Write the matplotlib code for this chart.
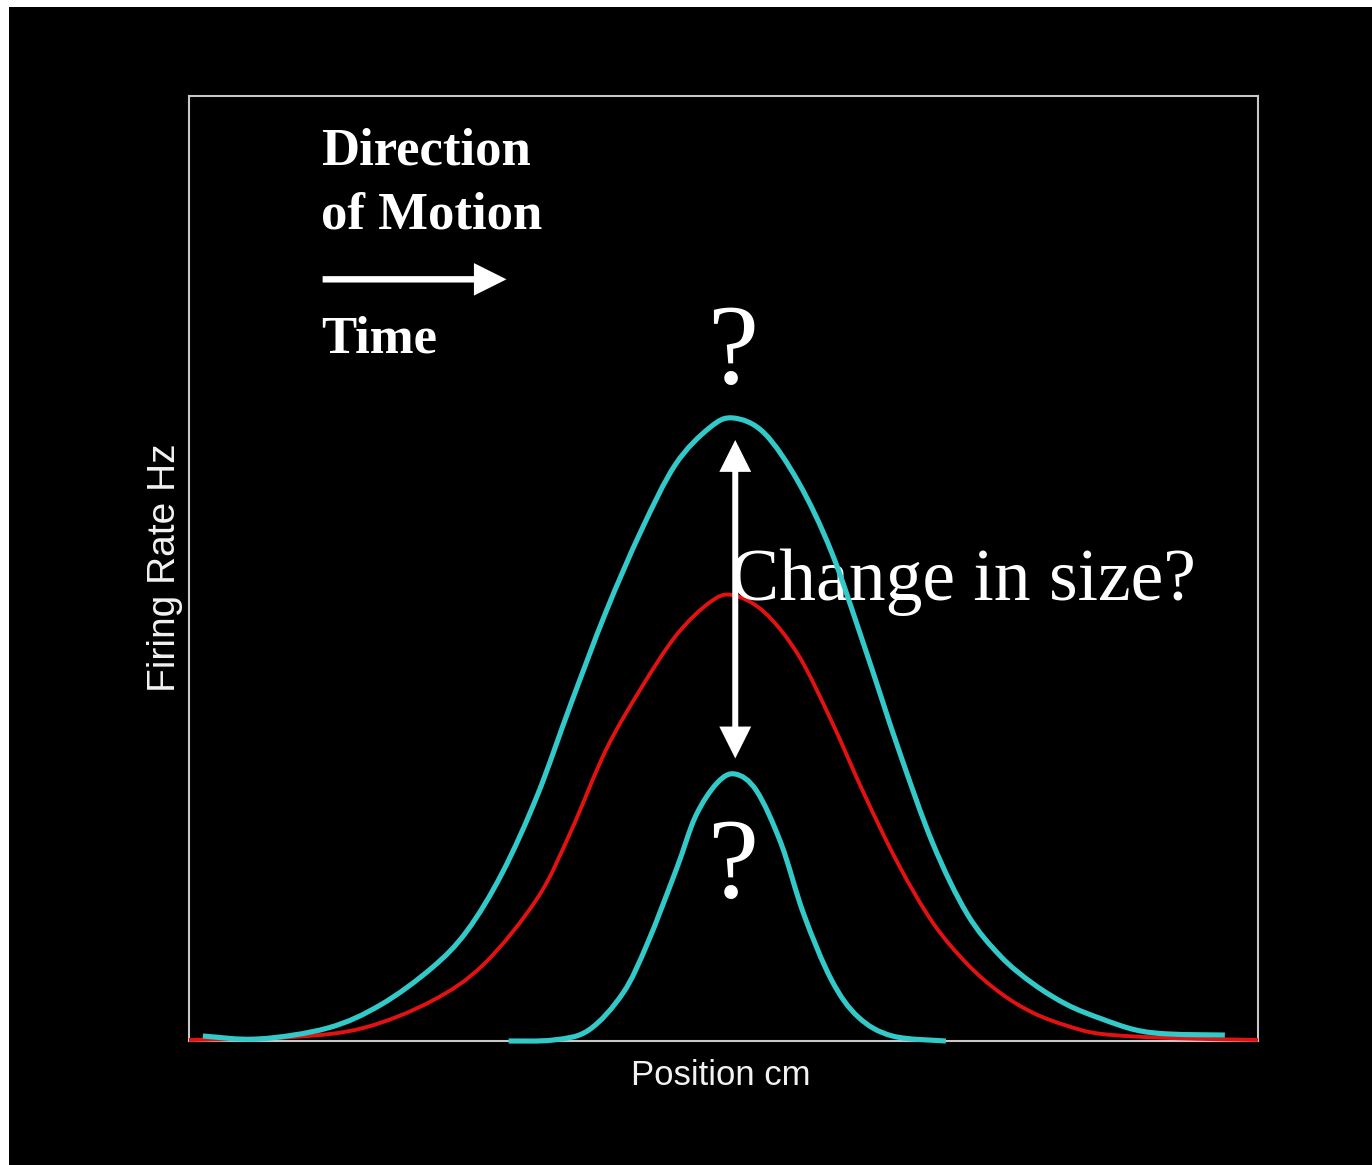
import matplotlib
matplotlib.use("Agg")
import numpy as np
import matplotlib.pyplot as plt
from matplotlib.patches import Rectangle, FancyArrowPatch, PathPatch
from matplotlib.path import Path

# Place-field firing rate profiles (position in cm, rate in Hz, arbitrary scale)
wide_x = [1.3, 6.5, 13.0, 17.9, 22.7, 26.0, 29.3, 32.6, 35.7, 39.0, 42.3, 45.5,
          48.7, 50.9, 53.8, 57.0, 60.1, 63.2, 66.4, 69.6, 72.8, 75.9, 79.0,
          82.2, 85.4, 88.6, 91.7, 96.9]
wide_y = [0.53, 0.21, 1.38, 3.81, 7.72, 11.64, 17.78, 26.03, 35.6, 45.4, 54.0,
          61.0, 64.9, 65.93, 64.34, 59.15, 51.75, 41.69, 30.79, 20.85, 13.44,
          8.99, 6.03, 3.81, 2.33, 1.16, 0.74, 0.63]

base_x = [0.0, 9.7, 16.3, 22.7, 27.6, 32.6, 35.7, 39.0, 42.3, 45.6, 48.7, 50.8,
          53.8, 57.0, 60.1, 63.2, 66.4, 69.6, 72.8, 75.9, 79.0, 82.2, 85.4,
          91.7, 100.0]
base_y = [0.11, 0.42, 1.38, 4.23, 8.15, 15.13, 22.12, 30.79, 37.35, 42.96, 46.4,
          47.20, 45.4, 40.85, 33.86, 26.03, 18.62, 12.49, 8.15, 5.08, 2.96,
          1.59, 0.74, 0.32, 0.11]

narrow_x = [29.9, 34.1, 37.4, 40.6, 42.9, 45.6, 47.4, 49.4, 51.1, 53.1, 55.4,
            57.5, 60.1, 62.6, 65.8, 70.8]
narrow_y = [0.0, 0.11, 1.16, 5.08, 10.37, 18.20, 23.81, 27.30, 28.25, 26.46,
            20.85, 13.44, 6.46, 2.54, 0.53, 0.0]

x_label = "Position cm"
y_label = "Firing Rate Hz"
legend_lines = ["Direction", "of Motion"]
time_label = "Time"
change_label = "Change in size?"


def smooth_curve(xs, ys):
    """Cubic Bezier path through the given points (Catmull-Rom tangents)."""
    pts = np.column_stack([xs, ys]).astype(float)
    n = len(pts)
    verts = [pts[0]]
    codes = [Path.MOVETO]
    for i in range(n - 1):
        p0 = pts[i - 1] if i > 0 else pts[i]
        p1, p2 = pts[i], pts[i + 1]
        p3 = pts[i + 2] if i + 2 < n else pts[i + 1]
        verts += [p1 + (p2 - p0) / 6.0, p2 - (p3 - p1) / 6.0, p2]
        codes += [Path.CURVE4] * 3
    return Path(verts, codes)


W, H = 1372, 1165
fig = plt.figure(figsize=(W / 100, H / 100), dpi=100, facecolor="white")
# black slide area
fig.patches.append(Rectangle((9 / W, 0), 1 - 9 / W, 1 - 7 / H,
                             transform=fig.transFigure, facecolor="black",
                             edgecolor="none", zorder=-10))

ax = fig.add_axes([189 / W, (H - 1041) / H, 1069 / W, 945 / H])
ax.set_zorder(1)
ax.set_facecolor("black")
ax.set_xlim(0, 100)
ax.set_ylim(0, 100)
ax.set_xticks([])
ax.set_yticks([])
for s in ax.spines.values():
    s.set_color("#c8c8c8")
    s.set_linewidth(1.5)

cyan = "#33c9c9"
red = "#e31212"
ax.add_patch(PathPatch(smooth_curve(base_x, base_y), fill=False, edgecolor=red,
                       lw=2.8, clip_on=False, zorder=3, joinstyle="round"))
for xs, ys in ((wide_x, wide_y), (narrow_x, narrow_y)):
    ax.add_patch(PathPatch(smooth_curve(xs, ys), fill=False, edgecolor=cyan,
                           lw=3.7, clip_on=False, zorder=5,
                           capstyle="butt", joinstyle="round"))

serif = "Liberation Serif"
ax.text(12.35, 92.8, legend_lines[0], family=serif, weight="bold", fontsize=38,
        color="white", ha="left", va="baseline")
ax.text(12.35, 86.0, legend_lines[1], family=serif, weight="bold", fontsize=38,
        color="white", ha="left", va="baseline")
ax.text(12.35, 72.9, time_label, family=serif, weight="bold", fontsize=38,
        color="white", ha="left", va="baseline")

# direction-of-motion arrow
ax.add_patch(FancyArrowPatch((12.5, 80.6), (29.7, 80.6),
                             arrowstyle="-|>,head_length=0.8,head_width=0.4",
                             mutation_scale=20, lw=4.6, color="white",
                             joinstyle="miter", capstyle="butt",
                             shrinkA=0, shrinkB=0, zorder=4))

# size-change double arrow
ax.add_patch(FancyArrowPatch((51.1, 29.9), (51.1, 63.6),
                             arrowstyle="<|-|>,head_length=0.8,head_width=0.4",
                             mutation_scale=20, lw=4.3, color="white",
                             joinstyle="miter", capstyle="butt",
                             shrinkA=0, shrinkB=0, zorder=6))

ax.text(50.9, 69.6, "?", family=serif, fontsize=83, color="white",
        ha="center", va="baseline", zorder=4)
ax.text(50.9, 15.2, "?", family=serif, fontsize=83, color="white",
        ha="center", va="baseline", zorder=4)
ax.text(50.6, 46.7, change_label, family=serif, fontsize=53, color="white",
        ha="left", va="baseline", zorder=4)

sans = "Liberation Sans"
fig.text(721 / W, (H - 1085) / H, x_label, family=sans, fontsize=25,
         color="#f2f2f2", ha="center", va="baseline")
fig.text(165 / W, (H - 568) / H, y_label, family=sans, fontsize=28,
         color="#f2f2f2", ha="center", va="center", rotation=90)

fig.savefig("out.png", dpi=100, facecolor=fig.get_facecolor())
